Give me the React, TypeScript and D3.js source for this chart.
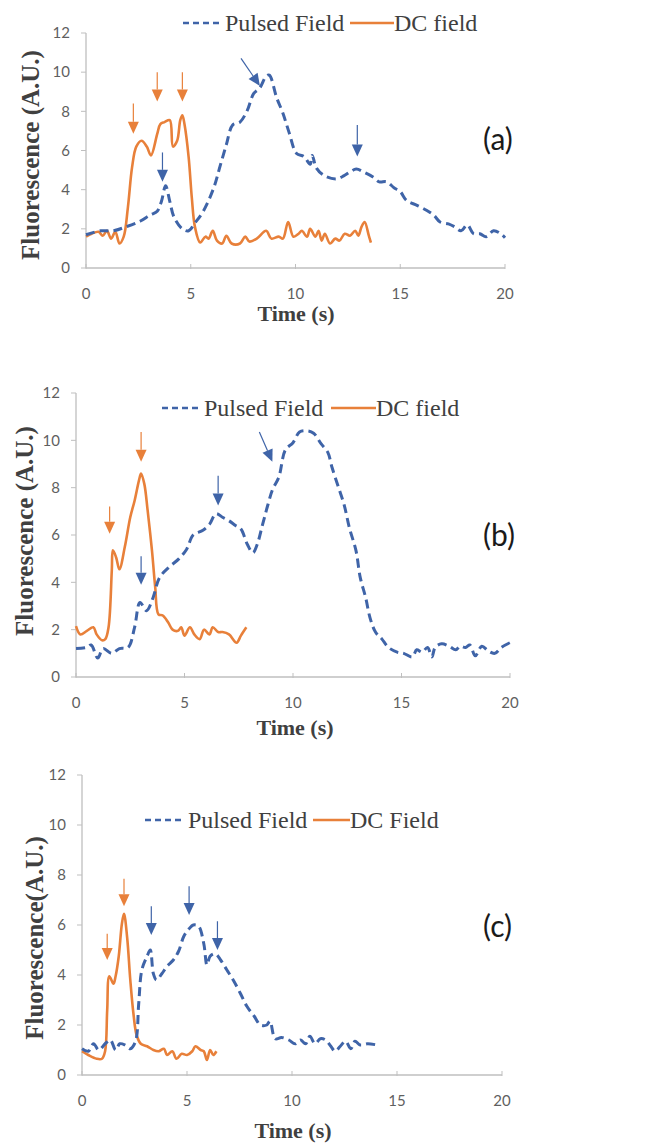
import * as d3 from 'd3'
import React from 'react'

const TIME_TICKS = [0, 5, 10, 15, 20]
const FLUOR_TICKS = [0, 2, 4, 6, 8, 10, 12]

const BLUE = '#3f64a8'
const ORANGE = '#e8803a'

// panel (a)
const pulsedA = [
  [0, 1.7], [0.7, 1.9], [1.3, 1.9], [1.9, 2.1], [2.6, 2.4], [3.05, 2.7], [3.4, 2.9], [3.6, 3.4], [3.8, 4.2],
  [4.0, 3.4], [4.2, 2.6], [4.6, 2.0], [4.9, 1.9], [5.2, 2.3], [5.6, 2.9], [6.1, 4.1], [6.4, 5.2], [6.7, 6.3],
  [7.0, 7.3], [7.35, 7.45], [7.7, 8.05], [8.0, 8.9], [8.3, 9.2], [8.6, 9.8], [8.75, 9.85], [9.1, 8.7],
  [9.4, 7.9], [9.7, 6.9], [10.05, 5.85], [10.4, 5.7], [10.7, 5.3], [10.8, 5.75], [11.0, 5.1], [11.4, 4.7],
  [11.95, 4.55], [12.3, 4.7], [12.6, 4.9], [12.9, 5.05], [13.25, 4.9], [13.7, 4.65], [14.0, 4.4],
  [14.35, 4.4], [14.7, 4.1], [15.0, 3.9], [15.3, 3.45], [15.8, 3.2], [16.25, 2.95], [16.6, 2.7],
  [16.9, 2.35], [17.3, 2.25], [17.6, 2.1], [17.9, 1.9], [18.2, 2.2], [18.5, 1.75], [18.8, 1.75],
  [19.1, 1.6], [19.45, 1.9], [19.8, 1.75], [20.0, 1.55],
]
const dcA = [
  [0, 1.6], [0.27, 1.75], [0.6, 1.85], [0.8, 1.65], [1.0, 1.9], [1.2, 1.5], [1.4, 1.85], [1.6, 1.25],
  [1.8, 1.6], [2.0, 3.1], [2.2, 5.15], [2.4, 6.2], [2.65, 6.5], [2.9, 6.2], [3.1, 5.75], [3.4, 6.85],
  [3.55, 7.35], [3.75, 7.45], [4.0, 7.55], [4.15, 6.2], [4.35, 6.5], [4.5, 7.55], [4.6, 7.8], [4.7, 7.35],
  [4.9, 5.65], [5.05, 3.6], [5.2, 2.1], [5.45, 1.3], [5.7, 1.6], [5.85, 1.5], [6.05, 1.9], [6.25, 1.4],
  [6.5, 1.25], [6.7, 1.65], [6.95, 1.25], [7.35, 1.25], [7.6, 1.6], [7.8, 1.35], [8.15, 1.5], [8.6, 1.9],
  [8.85, 1.5], [9.2, 1.6], [9.4, 1.5], [9.65, 2.35], [9.9, 1.6], [10.15, 1.75], [10.3, 1.9], [10.55, 1.6],
  [10.7, 2.0], [10.95, 1.6], [11.1, 1.9], [11.25, 1.4], [11.4, 1.75], [11.65, 1.25], [11.9, 1.5],
  [12.1, 1.4], [12.35, 1.75], [12.6, 1.65], [12.85, 1.9], [13.0, 1.65], [13.15, 2.1], [13.3, 2.35],
  [13.5, 1.65], [13.6, 1.3],
]
const arrowsA = [
  ['dc', 2.26, 8.4, 2.26, 6.86], ['dc', 3.4, 10.0, 3.4, 8.5], ['dc', 4.6, 10.0, 4.6, 8.5],
  ['pulsed', 3.65, 5.9, 3.65, 4.4], ['pulsed', 12.95, 7.3, 12.95, 5.7], ['pulsed', 7.4, 10.7, 8.3, 9.3],
]

// panel (b)
const pulsedB = [
  [0, 1.2], [0.5, 1.25], [0.7, 1.35], [1.0, 0.8], [1.25, 1.2], [1.65, 1.0], [2.0, 1.2], [2.4, 1.25],
  [2.7, 2.1], [2.95, 3.15], [3.25, 2.8], [3.55, 3.35], [3.85, 4.2], [4.3, 4.65], [4.75, 5.0], [5.1, 5.4],
  [5.4, 6.0], [5.85, 6.2], [6.15, 6.45], [6.45, 6.9], [6.75, 6.75], [7.05, 6.6], [7.35, 6.4], [7.6, 6.25],
  [7.9, 5.6], [8.15, 5.25], [8.35, 5.6], [8.6, 6.45], [8.85, 7.3], [9.05, 7.9], [9.35, 8.45], [9.65, 9.6],
  [10.0, 9.9], [10.3, 10.35], [10.65, 10.4], [10.95, 10.3], [11.3, 9.85], [11.6, 9.5], [11.8, 8.85],
  [12.1, 8.0], [12.35, 7.3], [12.6, 6.3], [12.9, 5.35], [13.1, 4.2], [13.35, 3.35], [13.55, 2.5],
  [13.8, 1.9], [14.1, 1.6], [14.4, 1.25], [14.8, 1.05], [15.1, 1.0], [15.5, 0.85], [15.7, 1.15],
  [15.95, 1.05], [16.2, 1.25], [16.4, 0.85], [16.55, 1.25], [16.85, 1.4], [17.2, 1.3], [17.5, 1.15],
  [17.7, 1.3], [17.95, 1.25], [18.15, 1.35], [18.4, 0.9], [18.7, 1.3], [19.0, 1.1], [19.3, 1.0],
  [19.6, 1.25], [20.0, 1.45],
]
const dcB = [
  [0, 2.15], [0.2, 1.8], [0.5, 1.95], [0.8, 2.1], [0.95, 1.8], [1.2, 1.55], [1.35, 1.6], [1.5, 2.1],
  [1.65, 4.5], [1.7, 5.35], [1.85, 5.05], [2.0, 4.55], [2.25, 5.5], [2.5, 6.75], [2.7, 7.45], [2.9, 8.3],
  [3.0, 8.6], [3.15, 8.15], [3.3, 7.05], [3.5, 5.35], [3.65, 3.8], [3.8, 2.65], [4.0, 2.6], [4.25, 2.3],
  [4.45, 2.0], [4.7, 1.95], [4.85, 2.1], [5.0, 1.75], [5.25, 2.1], [5.45, 1.8], [5.7, 1.6], [5.9, 2.0],
  [6.15, 1.8], [6.3, 2.1], [6.55, 1.9], [6.75, 1.9], [7.05, 1.8], [7.4, 1.45], [7.6, 1.75], [7.85, 2.1],
]
const arrowsB = [
  ['dc', 1.55, 7.2, 1.55, 6.05], ['dc', 3.0, 10.35, 3.0, 9.1],
  ['pulsed', 3.0, 5.1, 3.0, 3.9], ['pulsed', 6.55, 8.5, 6.55, 7.25], ['pulsed', 8.45, 10.35, 9.05, 9.1],
]

// panel (c)
const pulsedC = [
  [0, 1.05], [0.3, 0.95], [0.55, 1.25], [0.8, 1.0], [1.1, 1.25], [1.35, 1.4], [1.6, 1.0], [1.8, 1.25],
  [2.05, 1.2], [2.3, 1.05], [2.55, 1.35], [2.7, 2.85], [2.85, 4.2], [3.1, 4.75], [3.25, 5.0], [3.4, 4.05],
  [3.55, 3.8], [3.8, 4.05], [4.05, 4.35], [4.35, 4.6], [4.6, 4.95], [4.85, 5.55], [5.1, 5.85], [5.3, 6.0],
  [5.55, 5.95], [5.8, 5.25], [5.95, 4.4], [6.1, 4.75], [6.35, 4.85], [6.6, 4.6], [6.9, 4.2], [7.2, 3.8],
  [7.55, 3.25], [7.85, 2.75], [8.2, 2.35], [8.5, 2.0], [8.8, 2.0], [8.95, 2.15], [9.2, 1.45], [9.5, 1.5],
  [9.85, 1.4], [10.15, 1.25], [10.4, 1.4], [10.65, 1.25], [10.85, 1.55], [11.1, 1.25], [11.35, 1.45],
  [11.6, 1.4], [11.85, 1.15], [12.05, 0.95], [12.3, 1.15], [12.55, 1.35], [12.8, 1.05], [13.0, 1.35],
  [13.25, 1.2], [13.6, 1.25], [14.05, 1.2],
]
const dcC = [
  [0, 0.95], [0.3, 0.8], [0.7, 0.65], [0.95, 0.65], [1.1, 0.95], [1.2, 2.6], [1.3, 3.95], [1.5, 3.65],
  [1.6, 3.95], [1.75, 4.75], [1.9, 6.05], [2.0, 6.45], [2.15, 5.5], [2.3, 3.8], [2.45, 2.45], [2.6, 1.6],
  [2.8, 1.25], [3.1, 1.15], [3.4, 1.0], [3.65, 0.95], [3.9, 1.05], [4.05, 0.8], [4.3, 0.95], [4.5, 0.65],
  [4.75, 0.85], [5.0, 0.8], [5.25, 0.95], [5.4, 1.15], [5.65, 1.0], [5.8, 0.95], [5.95, 0.6], [6.1, 1.0],
  [6.25, 0.8], [6.4, 0.95],
]
const arrowsC = [
  ['dc', 1.2, 5.65, 1.2, 4.6], ['dc', 2.0, 7.85, 2.0, 6.75],
  ['pulsed', 3.3, 6.75, 3.3, 5.6], ['pulsed', 5.1, 7.55, 5.1, 6.4], ['pulsed', 6.45, 6.15, 6.45, 5.0],
]

const PANELS = [
  {
    id: 'a', pulsed: pulsedA, dc: dcA, arrows: arrowsA, dcName: 'DC field', yTitle: 'Fluorescence (A.U.)',
    left: 86, right: 505, top: 33, bottom: 268, xTitleX: 296, xTitleY: 321, yTitleX: 30, yTitleY: 155,
    legY: 23, legDash: 183, legText1: 225, legLine: 350, legText2: 394, tagY: 150,
  },
  {
    id: 'b', pulsed: pulsedB, dc: dcB, arrows: arrowsB, dcName: 'DC field', yTitle: 'Fluorescence (A.U.)',
    left: 76, right: 510, top: 393, bottom: 677, xTitleX: 295, xTitleY: 735, yTitleX: 24, yTitleY: 531,
    legY: 408, legDash: 162, legText1: 204, legLine: 331, legText2: 376, tagY: 546,
  },
  {
    id: 'c', pulsed: pulsedC, dc: dcC, arrows: arrowsC, dcName: 'DC Field', yTitle: 'Fluorescence(A.U.)',
    left: 82, right: 502, top: 775, bottom: 1075, xTitleX: 293, xTitleY: 1138, yTitleX: 34, yTitleY: 938,
    legY: 820, legDash: 145, legText1: 188, legLine: 313, legText2: 350, tagY: 937,
  },
]

const serif = '"Liberation Serif", "DejaVu Serif", serif'
const sans = 'Lato, "Open Sans", sans-serif'

const Arrow = ({ x1, y1, x2, y2, color }) => {
  const dx = x2 - x1
  const dy = y2 - y1
  const len = Math.sqrt(dx * dx + dy * dy)
  const ux = dx / len
  const uy = dy / len
  const headLen = 12
  const headHalf = 5.5
  const bx = x2 - ux * headLen
  const by = y2 - uy * headLen
  const head = `M${x2},${y2}L${bx - uy * headHalf},${by + ux * headHalf}L${bx + uy * headHalf},${by - ux * headHalf}Z`
  return (
    <g>
      <line x1={x1} y1={y1} x2={bx} y2={by} stroke={color} strokeWidth={1.2} />
      <path d={head} fill={color} />
    </g>
  )
}

const Panel = ({ p }) => {
  const x = d3.scaleLinear().domain([0, 20]).range([p.left, p.right])
  const y = d3.scaleLinear().domain([0, 12]).range([p.bottom, p.top])
  const line = d3
    .line()
    .x(d => x(d[0]))
    .y(d => y(d[1]))
    .curve(d3.curveCatmullRom.alpha(0.5))

  return (
    <g>
      {/* axes */}
      <line x1={p.left} y1={p.top} x2={p.left} y2={p.bottom} stroke="#bfbfbf" strokeWidth={1.3} />
      <line x1={p.left} y1={p.bottom} x2={p.right} y2={p.bottom} stroke="#bfbfbf" strokeWidth={1.3} />
      {FLUOR_TICKS.map(v => (
        <g key={'y' + v}>
          <line x1={p.left - 5} x2={p.left} y1={y(v)} y2={y(v)} stroke="#bfbfbf" strokeWidth={1} />
          <text x={p.left - 16} y={y(v)} dy="0.35em" textAnchor="end" fontFamily={sans} fontSize={15} fill="#5f5f5f">
            {v}
          </text>
        </g>
      ))}
      {TIME_TICKS.map(t => (
        <g key={'x' + t}>
          <line x1={x(t)} x2={x(t)} y1={p.bottom - 4} y2={p.bottom + 1} stroke="#bfbfbf" strokeWidth={1} />
          <text x={x(t)} y={p.bottom + 26} dy="0.35em" textAnchor="middle" fontFamily={sans} fontSize={15} fill="#5f5f5f">
            {t}
          </text>
        </g>
      ))}

      {/* titles */}
      <text x={p.xTitleX} y={p.xTitleY} textAnchor="middle" fontFamily={serif} fontWeight="bold" fontSize={22} fill="#404040">
        Time (s)
      </text>
      <text
        transform={`translate(${p.yTitleX},${p.yTitleY}) rotate(-90)`}
        dy="0.35em"
        textAnchor="middle"
        fontFamily={serif}
        fontWeight="bold"
        fontSize={25}
        fill="#404040"
      >
        {p.yTitle}
      </text>

      {/* series */}
      <path d={line(p.dc)} fill="none" stroke={ORANGE} strokeWidth={2.6} strokeLinejoin="round" />
      <path d={line(p.pulsed)} fill="none" stroke={BLUE} strokeWidth={3} strokeDasharray="9,5" />

      {/* arrows */}
      {p.arrows.map((a, i) => (
        <Arrow key={i} x1={x(a[1])} y1={y(a[2])} x2={x(a[3])} y2={y(a[4])} color={a[0] === 'dc' ? ORANGE : BLUE} />
      ))}

      {/* legend */}
      <line x1={p.legDash} x2={p.legDash + 39} y1={p.legY} y2={p.legY} stroke={BLUE} strokeWidth={2.5} strokeDasharray="6,4" />
      <text x={p.legText1} y={p.legY + 8} fontFamily={serif} fontSize={24} fill="#404040">
        Pulsed Field
      </text>
      <line x1={p.legLine} x2={p.legText2} y1={p.legY} y2={p.legY} stroke={ORANGE} strokeWidth={2.5} />
      <text x={p.legText2} y={p.legY + 8} fontFamily={serif} fontSize={24} fill="#404040">
        {p.dcName}
      </text>

      {/* panel tag */}
      <text x={483} y={p.tagY} fontFamily={sans} fontSize={30} fill="#1a1a1a">
        ({p.id})
      </text>
    </g>
  )
}

export default function App() {
  return (
    <svg width={661} height={1147} style={{ position: 'absolute', left: 0, top: 0, background: '#fff' }}>
      <rect width={661} height={1147} fill="#fff" />
      {PANELS.map(p => (
        <Panel key={p.id} p={p} />
      ))}
    </svg>
  )
}
